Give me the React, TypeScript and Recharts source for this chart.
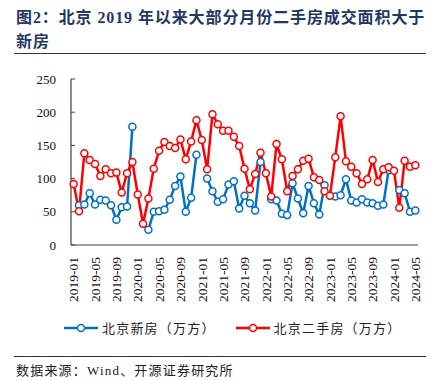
import React from 'react'
import { LineChart, Line, XAxis, YAxis } from 'recharts'

// 2019-01 .. 2024-05
const MONTHS = [
  '2019-01', '2019-02', '2019-03', '2019-04', '2019-05', '2019-06', '2019-07', '2019-08', '2019-09', '2019-10', '2019-11', '2019-12',
  '2020-01', '2020-02', '2020-03', '2020-04', '2020-05', '2020-06', '2020-07', '2020-08', '2020-09', '2020-10', '2020-11', '2020-12',
  '2021-01', '2021-02', '2021-03', '2021-04', '2021-05', '2021-06', '2021-07', '2021-08', '2021-09', '2021-10', '2021-11', '2021-12',
  '2022-01', '2022-02', '2022-03', '2022-04', '2022-05', '2022-06', '2022-07', '2022-08', '2022-09', '2022-10', '2022-11', '2022-12',
  '2023-01', '2023-02', '2023-03', '2023-04', '2023-05', '2023-06', '2023-07', '2023-08', '2023-09', '2023-10', '2023-11', '2023-12',
  '2024-01', '2024-02', '2024-03', '2024-04', '2024-05',
]

// 北京新房（万方），缺失月份为 null
const NEW_HOME = [
  null, 60, 61, 78, 61, 68, 67, 60, 38, 57, 58, 178,
  null, null, 23, 50, 51, 53, 68, 89, 103, 50, 71, 136,
  null, 100, 81, 65, 69, 91, 96, 55, 74, 63, 52, 125,
  null, 69, 67, 47, 45, 93, 70, 48, 89, 63, 46, 90,
  null, 73, 75, 99, 67, 64, 69, 64, 63, 59, 61, 113,
  null, 83, 78, 50, 52,
]

// 北京二手房（万方）
const SECOND_HAND = [
  92, 51, 138, 128, 122, 104, 114, 108, 109, 79, 108, 125,
  76, 32, 70, 115, 142, 155, 149, 146, 159, 129, 156, 188,
  158, 114, 197, 182, 172, 172, 163, 149, 115, 84, 107, 139,
  108, 73, 152, 129, 81, 104, 114, 127, 130, 102, 98, 81,
  74, 132, 194, 126, 118, 108, 92, 99, 128, 95, 114, 117,
  112, 56, 127, 118, 120,
]

const Y_TICKS = [0, 50, 100, 150, 200, 250]
const X_LABEL_IDX = [0, 4, 8, 12, 16, 20, 24, 28, 32, 36, 40, 44, 48, 52, 56, 60, 64]
const X_MARK_POS = [3.5, 7.5, 11.5, 15.5, 19.5, 23.5, 27.5, 31.5, 35.5, 39.5, 43.5, 47.5, 51.5, 55.5, 59.5, 63.5]

const BLUE = '#0070C0'
const RED = '#FF0000'
const AXIS = '#404040'
const SERIF = "'Liberation Serif', 'Noto Sans CJK SC', serif"

const data = MONTHS.map((m, i) => ({
  idx: i,
  month: m,
  newHome: NEW_HOME[i],
  secondHand: SECOND_HAND[i],
}))

const XTick = ({ x, y, payload }: any) => (
  <text
    x={x}
    y={y}
    transform={`rotate(-90, ${x}, ${y})`}
    textAnchor="end"
    dy="0.35em"
    fontSize={13.5}
    fontFamily={SERIF}
    fill="#111"
  >
    {MONTHS[payload.value]}
  </text>
)

const LegendIcon = ({ color }: { color: string }) => (
  <svg width={34} height={10} style={{ display: 'block' }}>
    <line x1={0} y1={5} x2={34} y2={5} stroke={color} strokeWidth={2.5} />
    <circle cx={17} cy={5} r={3.5} fill="#fff" stroke={color} strokeWidth={1.5} />
  </svg>
)

export default function App() {
  const dot = (color: string) => ({ r: 3.5, fill: '#fff', stroke: color, strokeWidth: 1.5 })

  return (
    <div style={{ position: 'absolute', left: 0, top: 0, width: 443, height: 380, background: '#fff', overflow: 'hidden' }}>
      <div
        style={{
          position: 'absolute',
          left: 16,
          top: 6,
          width: 420,
          fontFamily: SERIF,
          fontWeight: 'bold',
          fontSize: 16,
          lineHeight: '24px',
          letterSpacing: 0.9,
          color: '#1F3864',
        }}
      >
        图2：北京 2019 年以来大部分月份二手房成交面积大于
        <br />
        新房
      </div>
      <div style={{ position: 'absolute', left: 14, top: 53, width: 412, height: 1, background: '#333' }} />

      <div style={{ position: 'absolute', left: 0, top: 0 }}>
        <LineChart width={443} height={310} data={data} margin={{ top: 79, right: 25, left: 11, bottom: 5 }}>
          <XAxis
            xAxisId="marks"
            dataKey="idx"
            type="number"
            domain={[-0.5, 64.5]}
            ticks={X_MARK_POS}
            tick={false}
            axisLine={false}
            tickLine={{ stroke: AXIS }}
            tickSize={-4}
            height={0}
          />
          <XAxis
            dataKey="idx"
            type="number"
            domain={[-0.5, 64.5]}
            ticks={X_LABEL_IDX}
            interval={0}
            tick={<XTick />}
            tickLine={false}
            tickSize={0}
            tickMargin={12}
            axisLine={{ stroke: AXIS, strokeWidth: 1.2 }}
            height={60}
          />
          <YAxis
            domain={[0, 250]}
            ticks={Y_TICKS}
            interval={0}
            width={60}
            axisLine={{ stroke: AXIS, strokeWidth: 1.2 }}
            tickLine={{ stroke: AXIS }}
            tickSize={-4}
            tickMargin={19}
            tick={{ fontSize: 13, fontFamily: SERIF, fill: '#111' }}
          />
          <Line
            dataKey="newHome"
            stroke={BLUE}
            strokeWidth={2.5}
            dot={dot(BLUE)}
            isAnimationActive={false}
            connectNulls={false}
          />
          <Line
            dataKey="secondHand"
            stroke={RED}
            strokeWidth={2.5}
            dot={dot(RED)}
            isAnimationActive={false}
          />
        </LineChart>
      </div>

      <div
        style={{
          position: 'absolute',
          top: 318,
          left: 64,
          display: 'flex',
          alignItems: 'center',
          fontFamily: SERIF,
          fontSize: 13,
          letterSpacing: 1.2,
          color: '#222',
        }}
      >
        <LegendIcon color={BLUE} />
        <span style={{ marginLeft: 4 }}>北京新房（万方）</span>
        <span style={{ width: 20 }} />
        <LegendIcon color={RED} />
        <span style={{ marginLeft: 4 }}>北京二手房（万方）</span>
      </div>

      <div style={{ position: 'absolute', left: 14, top: 356, width: 412, height: 1, background: '#333' }} />
      <div
        style={{
          position: 'absolute',
          left: 16,
          top: 360,
          fontFamily: SERIF,
          fontSize: 13,
          letterSpacing: 1.2,
          color: '#222',
        }}
      >
        数据来源：Wind、开源证券研究所
      </div>
    </div>
  )
}
